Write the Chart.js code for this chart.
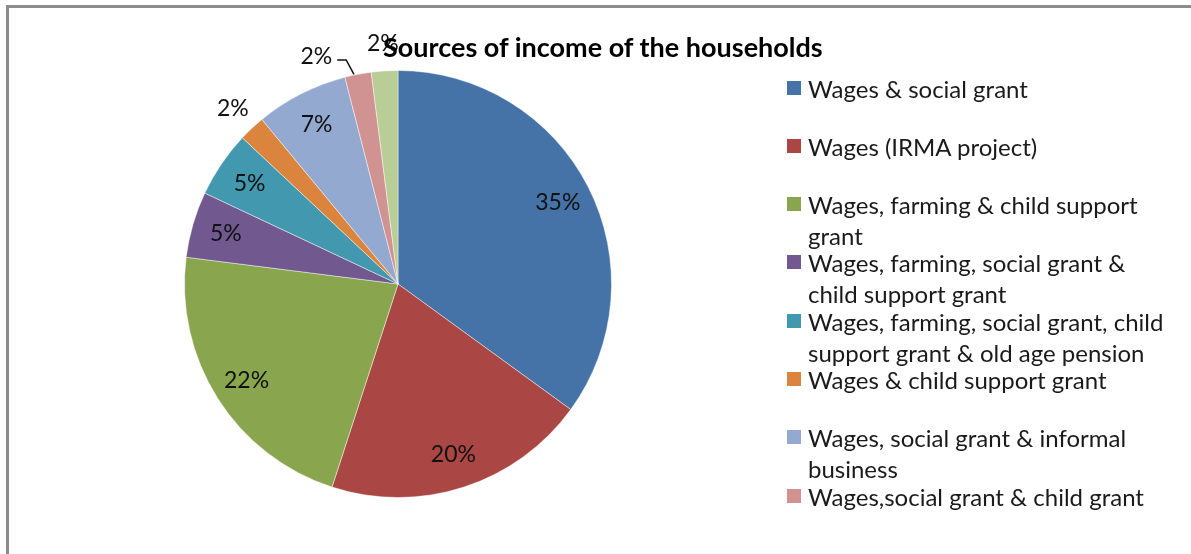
<!DOCTYPE html>
<html>
<head>
<meta charset="utf-8">
<script src="https://cdn.jsdelivr.net/npm/chart.js@4/dist/chart.umd.min.js"></script>
<style>
  html, body { margin: 0; padding: 0; background: #fff; }
  #wrap { position: relative; width: 1191px; height: 554px; overflow: hidden; background: #fff; }
  #c { position: absolute; left: 0; top: 0; }
  #frame { position: absolute; left: 6px; top: 5px; width: 1300px; height: 700px;
           border-left: 3px solid #8c8c8c; border-top: 3px solid #8c8c8c; pointer-events: none; }
  #title { position: absolute; left: 383px; top: 31px; font-family: Lato, "Open Sans", sans-serif;
           font-weight: bold; font-size: 27px; color: #000; white-space: nowrap; line-height: 32px; }
  .lg { position: absolute; left: 787px; font-family: Lato, "Open Sans", sans-serif; font-size: 24px;
        color: #1a1a1a; line-height: 31px; white-space: nowrap; }
  .lg .sw { position: absolute; left: 0; top: 8px; width: 14px; height: 14px; }
  .lg .tx { position: absolute; left: 21px; top: 0; }
</style>
</head>
<body>
<div id="wrap">
  <canvas id="c" width="1191" height="554"></canvas>
  <div id="frame"></div>
  <div id="title">Sources of income of the households</div>
  <div id="legend"></div>
</div>
<script>
// ---- data ----
const categories = [
  ["Wages & social grant"],
  ["Wages (IRMA project)"],
  ["Wages, farming & child support", "grant"],
  ["Wages, farming, social grant &", "child support grant"],
  ["Wages, farming, social grant, child", "support grant & old age pension"],
  ["Wages & child support grant"],
  ["Wages, social grant & informal", "business"],
  ["Wages,social grant & child grant"],
  ["Other"]
];
const shares = [35, 20, 22, 5, 5, 2, 7, 2, 2];
const colors = ["#4572A7", "#AA4643", "#89A54E", "#71588F", "#4198AF", "#DB843D", "#93A9CF", "#D19392", "#B9CD96"];
const legendCount = 8; // the reference legend shows only the first eight entries

// ---- legend (HTML, real text) ----
const lg = document.getElementById('legend');
for (let i = 0; i < legendCount; i++) {
  const d = document.createElement('div');
  d.className = 'lg';
  d.style.top = (88 + i * 58.3 - 15.5) + 'px';
  const sw = document.createElement('div');
  sw.className = 'sw';
  sw.style.background = colors[i];
  const tx = document.createElement('div');
  tx.className = 'tx';
  tx.innerHTML = categories[i].map(s => s.replace(/&/g, '&amp;')).join('<br>');
  d.appendChild(sw); d.appendChild(tx);
  lg.appendChild(d);
}

// ---- data labels plugin ----
const labelShiftDeg = {7: -9};
const pieLabels = {
  id: 'pieLabels',
  afterDatasetsDraw(chart) {
    const ctx = chart.ctx;
    const meta = chart.getDatasetMeta(0);
    const vals = chart.data.datasets[0].data;
    ctx.save();
    ctx.font = '23px Lato, "Open Sans", sans-serif';
    ctx.fillStyle = '#111';
    ctx.textAlign = 'center';
    ctx.textBaseline = 'middle';
    meta.data.forEach((arc, i) => {
      const v = vals[i];
      const mid = (arc.startAngle + arc.endAngle) / 2;
      const r = arc.outerRadius;
      const txt = v + '%';
      if (v >= 5) {
        const f = 0.84;
        ctx.fillText(txt, arc.x + Math.cos(mid) * r * f, arc.y + Math.sin(mid) * r * f);
      } else {
        const shift = (labelShiftDeg[i] || 0) * Math.PI / 180;
        const a = mid + shift;
        const f = 1.13;
        const lx = arc.x + Math.cos(a) * r * f;
        const ly = arc.y + Math.sin(a) * r * f;
        ctx.fillText(txt, lx, ly);
        if (shift !== 0) {
          const w = ctx.measureText(txt).width;
          const sx = lx + w / 2 + 5;
          const sy = ly + 3;
          const ex = arc.x + Math.cos(mid) * r;
          const ey = arc.y + Math.sin(mid) * r;
          ctx.beginPath();
          ctx.strokeStyle = '#111';
          ctx.lineWidth = 1.5;
          ctx.moveTo(sx, sy);
          ctx.lineTo(sx + 9, sy);
          ctx.lineTo(ex - 4, ey);
          ctx.stroke();
        }
      }
    });
    ctx.restore();
  }
};

new Chart(document.getElementById('c'), {
  type: 'pie',
  data: {
    labels: categories,
    datasets: [{
      data: shares,
      backgroundColor: colors,
      borderColor: 'rgba(255,255,255,0.45)',
      borderWidth: 1
    }]
  },
  options: {
    responsive: false,
    animation: false,
    layout: { padding: { left: 184, right: 579, top: 70, bottom: 56 } },
    plugins: {
      legend: { display: false },
      title: { display: false },
      tooltip: { enabled: false }
    }
  },
  plugins: [pieLabels]
});
</script>
</body>
</html>
